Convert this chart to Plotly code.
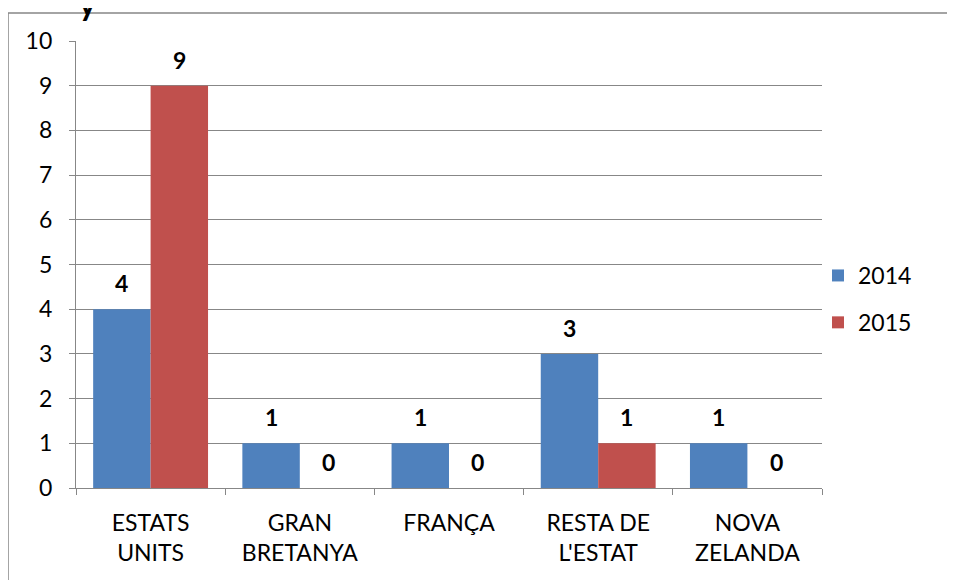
import plotly.graph_objects as go

categories = ["ESTATS<br>UNITS", "GRAN<br>BRETANYA", "FRANÇA", "RESTA DE<br>L'ESTAT", "NOVA<br>ZELANDA"]
values_2014 = [4, 1, 1, 3, 1]
values_2015 = [9, 0, 0, 1, 0]
series_names = ["2014", "2015"]
y_ticks = list(range(0, 11))

colors = ["#4F81BD", "#C0504D"]
FONT = "Lato, 'Open Sans', sans-serif"
FS = 23

OFF = 8  # page body margin
W, H = 955, 580
L, R, T, B = 76 - OFF, W - 822 + OFF, 41 - OFF, H - 488 + OFF
pw, ph = W - L - R, H - T - B


def px_x(x_abs):
    return (x_abs - OFF - L) / pw


def px_y(y_abs):
    return (H - B - (y_abs - OFF)) / ph


fig = go.Figure()
for i, (name, vals) in enumerate(zip(series_names, [values_2014, values_2015])):
    fig.add_trace(go.Bar(
        x=categories, y=vals, name=name, marker=dict(color=colors[i], line=dict(width=0)),
        legendgroup=name,
    ))

bargap = 0.23
cat_w = pw / len(categories)
bar_w = cat_w * (1 - bargap) / 2
for i, vals in enumerate([values_2014, values_2015]):
    shift = (i - 0.5) * bar_w
    for c, v in zip(categories, vals):
        fig.add_annotation(x=c, y=v, text=f"<b>{v}</b>", showarrow=False,
                           xshift=shift, yshift=26, yanchor="middle",
                           font=dict(family=FONT, size=FS, color="black"))

# partially visible title fragment at the top
fig.add_annotation(xref="paper", yref="paper", x=px_x(87), y=px_y(3),
                   text="<b>y</b>", showarrow=False, xanchor="center", yanchor="middle",
                   font=dict(family=FONT, size=32, color="black"))

# outer chart border
fig.add_shape(type="rect", xref="paper", yref="paper",
              x0=px_x(8), x1=2, y0=-1, y1=px_y(13),
              line=dict(color="#878787", width=1.5), fillcolor="rgba(0,0,0,0)", layer="below")

fig.update_layout(
    width=W, height=H,
    margin=dict(l=L, r=R, t=T, b=B),
    paper_bgcolor="white", plot_bgcolor="white",
    barmode="group", bargap=bargap, bargroupgap=0,
    font=dict(family=FONT, size=FS, color="black"),
    showlegend=True,
    legend=dict(x=px_x(818), y=px_y(254), xanchor="left", yanchor="top",
                font=dict(family=FONT, size=FS, color="black"),
                tracegroupgap=14, bgcolor="rgba(0,0,0,0)"),
)
fig.update_xaxes(showline=True, linecolor="#878787", linewidth=1.3,
                 ticks="outside", tickson="boundaries", ticklen=6, tickcolor="#878787",
                 tickfont=dict(family=FONT, size=FS, color="black"), ticklabelstandoff=14,
                 showgrid=False, fixedrange=True)
fig.update_yaxes(range=[0, 10], tickvals=y_ticks, showline=True, linecolor="#878787", linewidth=1.3,
                 ticks="outside", ticklen=6, tickcolor="#878787",
                 showgrid=True, gridcolor="#878787", gridwidth=1.3, zeroline=False,
                 tickfont=dict(family=FONT, size=FS, color="black"), ticklabelstandoff=12,
                 fixedrange=True)

fig.write_html("out.html")
